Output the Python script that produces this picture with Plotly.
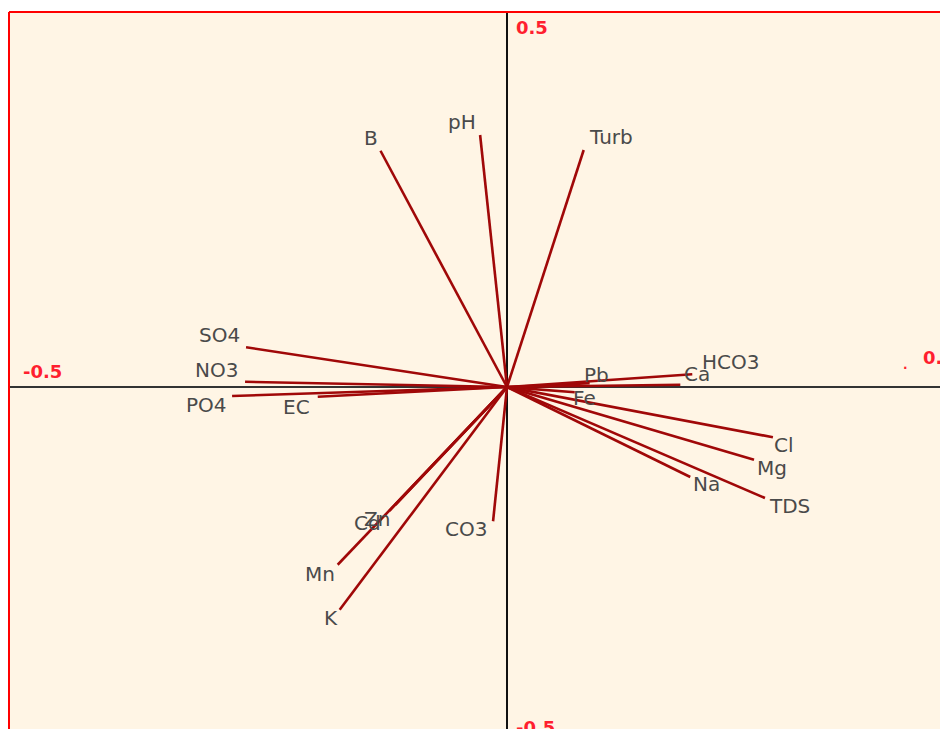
import plotly.graph_objects as go

# Variable loadings (PC1, PC2)
variables = ["B", "pH", "Turb", "SO4", "NO3", "PO4", "EC", "Pb", "Fe", "HCO3",
             "Ca", "Cl", "Mg", "Na", "TDS", "CO3", "Zn", "Cd", "Mn", "K"]
pc1 = [-0.127, -0.027, 0.077, -0.262, -0.263, -0.276, -0.190, 0.083, 0.068, 0.186,
       0.174, 0.267, 0.248, 0.184, 0.259, -0.014, -0.112, -0.118, -0.170, -0.168]
pc2 = [0.315, 0.336, 0.316, 0.053, 0.007, -0.012, -0.013, 0.005, -0.007, 0.017,
       0.003, -0.067, -0.097, -0.120, -0.148, -0.179, -0.157, -0.165, -0.237, -0.297]

axis_tick_labels = ["-0.5", "0.5", "-0.5", "0.5"]

# label offsets in pixels (layout only)
label_offsets = {
    "B": (-10, 13), "pH": (-18, 13), "Turb": (27, 13), "SO4": (-27, 12),
    "NO3": (-29, 12), "PO4": (-26, -9), "EC": (-21, -10), "Pb": (7, 8),
    "Fe": (10, -6), "HCO3": (38, 12), "Ca": (17, 11), "Cl": (11, -8),
    "Mg": (18, -8), "Na": (16, -7), "TDS": (25, -8), "CO3": (-27, -8),
    "Zn": (-18, -14), "Cd": (-22, -12), "Mn": (-18, -9), "K": (-9, -8),
}

# page has an 8px body margin; figure sized to fill the rest of the window
W, H = 940, 721
L, T = 1, 4
ox, oy = 499, 379
xpx = 996.0  # px per unit
ypx = 750.0
x_range = [-(ox - L) / xpx, (W - ox) / xpx]
y_range = [-(H - oy) / ypx, (oy - T) / ypx]

fig = go.Figure()

lx, ly = [], []
for a, b in zip(pc1, pc2):
    lx += [0, a, None]
    ly += [0, b, None]
fig.add_trace(go.Scatter(x=lx, y=ly, mode="lines",
                         line=dict(color="#A00808", width=2.6),
                         hoverinfo="skip", showlegend=False))

for name, a, b in zip(variables, pc1, pc2):
    dx, dy = label_offsets[name]
    fig.add_annotation(x=a, y=b, text=name, showarrow=False,
                       xshift=dx, yshift=dy,
                       font=dict(family="DejaVu Sans", size=20, color="#4a4a4a"))

red_font = dict(family="DejaVu Sans", size=18, color="#FF1F2F")
# left -0.5
fig.add_annotation(x=x_range[0], y=0, text="<b>%s</b>" % axis_tick_labels[0],
                   xanchor="left", yanchor="bottom", xshift=12, yshift=3,
                   showarrow=False, font=red_font)
# right 0.5 (with the small dot before it)
fig.add_annotation(x=x_range[1], y=0, text="<b>.</b>", xanchor="left",
                   yanchor="bottom", xshift=-47, yshift=13,
                   showarrow=False, font=dict(family="DejaVu Sans", size=12, color="#FF1F2F"))
fig.add_annotation(x=x_range[1], y=0, text="<b>%s</b>" % axis_tick_labels[1],
                   xanchor="left", yanchor="bottom", xshift=-27, yshift=17,
                   showarrow=False, font=red_font)
# bottom -0.5
fig.add_annotation(x=0, y=y_range[0], text="<b>%s</b>" % axis_tick_labels[2],
                   xanchor="left", yanchor="top", xshift=7, yshift=14,
                   showarrow=False, font=red_font)
# top 0.5
fig.add_annotation(x=0, y=y_range[1], text="<b>%s</b>" % axis_tick_labels[3],
                   xanchor="left", yanchor="top", xshift=7, yshift=-3,
                   showarrow=False, font=red_font)

# red frame on left and top
fig.add_shape(type="line", xref="paper", yref="paper", x0=0, y0=0, x1=0, y1=1,
              line=dict(color="#FF0000", width=2))
fig.add_shape(type="line", xref="paper", yref="paper", x0=0, y0=1, x1=1, y1=1,
              line=dict(color="#FF0000", width=2))

fig.update_xaxes(range=x_range, showgrid=False, showticklabels=False, ticks="",
                 zeroline=True, zerolinecolor="#111111", zerolinewidth=1.5,
                 showline=False, fixedrange=True)
fig.update_yaxes(range=y_range, showgrid=False, showticklabels=False, ticks="",
                 zeroline=True, zerolinecolor="#333333", zerolinewidth=1.8,
                 showline=False, fixedrange=True)

fig.update_layout(width=W, height=H,
                  margin=dict(l=L, r=0, t=T, b=0, pad=0, autoexpand=False),
                  paper_bgcolor="white", plot_bgcolor="#FFF5E5",
                  showlegend=False)

fig.write_html("out.html", config={"displayModeBar": False})
